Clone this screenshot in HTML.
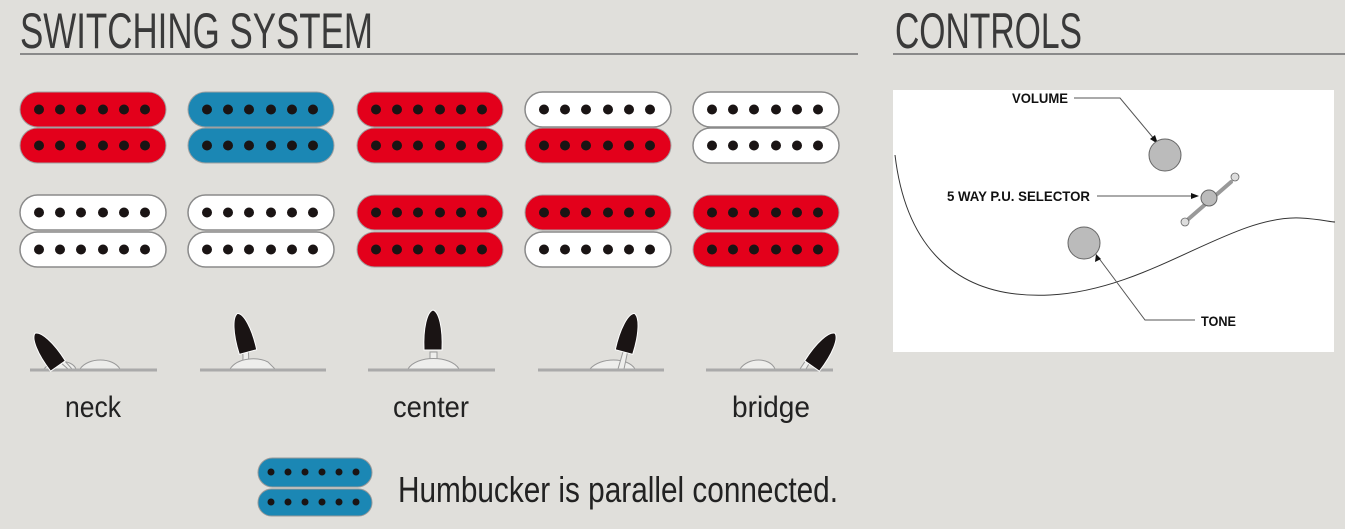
<!DOCTYPE html>
<html><head><meta charset="utf-8"><style>
html,body{margin:0;padding:0;background:#e0dfdb;}
svg{display:block}
</style></head><body>
<svg width="1345" height="529" viewBox="0 0 1345 529" xmlns="http://www.w3.org/2000/svg">
<defs>
<g id="dots" fill="#1a1414">
<circle cx="19" cy="17.5" r="5"/><circle cx="40" cy="17.5" r="5"/><circle cx="61" cy="17.5" r="5"/><circle cx="83" cy="17.5" r="5"/><circle cx="104" cy="17.5" r="5"/><circle cx="125" cy="17.5" r="5"/>
</g>
<g id="R"><rect x="0" y="0" width="146" height="35" rx="17.5" fill="#e3001b" stroke="#a0a0a0" stroke-width="1"/><use href="#dots"/></g>
<g id="B"><rect x="0" y="0" width="146" height="35" rx="17.5" fill="#1b87b4" stroke="#a0a0a0" stroke-width="1"/><use href="#dots"/></g>
<g id="W"><rect x="0" y="0" width="146" height="35" rx="17.5" fill="#ffffff" stroke="#8a8a8a" stroke-width="1.5"/><use href="#dots"/></g>
<g id="knob"><path d="M-9,0 C-10,-22 -6,-38 0,-40 C6,-38 10,-22 9,0 Z" fill="#1a1414" stroke="#fff" stroke-width="1"/></g>
</defs>
<rect width="1345" height="529" fill="#e0dfdb"/>
<text x="20" y="48" font-family="Liberation Sans, sans-serif" font-size="50" fill="#3a3a3a" textLength="353" lengthAdjust="spacingAndGlyphs">SWITCHING SYSTEM</text>
<line x1="20" y1="54" x2="858" y2="54" stroke="#8a8a8a" stroke-width="2"/>
<text x="895" y="48" font-family="Liberation Sans, sans-serif" font-size="50" fill="#3a3a3a" textLength="187" lengthAdjust="spacingAndGlyphs">CONTROLS</text>
<line x1="893" y1="54" x2="1345" y2="54" stroke="#8a8a8a" stroke-width="2"/>

<!-- row 1 -->
<use href="#R" x="20" y="92"/><use href="#R" x="20" y="128"/>
<use href="#B" x="188" y="92"/><use href="#B" x="188" y="128"/>
<use href="#R" x="357" y="92"/><use href="#R" x="357" y="128"/>
<use href="#W" x="525" y="92"/><use href="#R" x="525" y="128"/>
<use href="#W" x="693" y="92"/><use href="#W" x="693" y="128"/>
<!-- row 2 -->
<use href="#W" x="20" y="195"/><use href="#W" x="20" y="232"/>
<use href="#W" x="188" y="195"/><use href="#W" x="188" y="232"/>
<use href="#R" x="357" y="195"/><use href="#R" x="357" y="232"/>
<use href="#R" x="525" y="195"/><use href="#W" x="525" y="232"/>
<use href="#R" x="693" y="195"/><use href="#R" x="693" y="232"/>

<!-- switches -->
<g fill="#eeeeec" stroke="#999" stroke-width="1">
<path d="M44,369 C52,359 72,359 76,369 Z"/>
<path d="M60,362 L68,369 L72,369 L64,360 Z"/>
<path d="M80,369 C88,357 113,357 120,369 Z" fill="#ececea"/>
<path d="M248,369 Q250,350 246,344 L242,344 Q244,358 242,369 Z"/>
<path d="M240,369 C248,357 268,357 278,362 L285,369 Z" transform="translate(-10,0)"/>
<path d="M430,369 L430,352 L437,352 L437,369 Z"/>
<path d="M408,369 C416,355 451,355 459,369 Z"/>
<path d="M590,369 C600,357 628,357 635,369 Z"/>
<path d="M618,369 L625,345 L629,345 L624,369 Z"/>
<path d="M740,369 C748,357 770,357 775,369 Z"/>
<path d="M800,369 L806,360 L810,362 L806,369 Z"/>
</g>
<g stroke="#aaa" stroke-width="3">
<line x1="30" y1="370" x2="157" y2="370"/>
<line x1="200" y1="370" x2="326" y2="370"/>
<line x1="368" y1="370" x2="495" y2="370"/>
<line x1="538" y1="370" x2="664" y2="370"/>
<line x1="706" y1="370" x2="833" y2="370"/>
</g>
<use href="#knob" transform="translate(58,366) rotate(-35)"/>
<use href="#knob" transform="translate(248,352) rotate(-15)"/>
<use href="#knob" transform="translate(433,350)"/>
<use href="#knob" transform="translate(624,352) rotate(15)"/>
<use href="#knob" transform="translate(812,366) rotate(35)"/>

<g font-family="Liberation Sans, sans-serif" font-size="30" fill="#222" text-anchor="middle">
<text x="93" y="417" textLength="56" lengthAdjust="spacingAndGlyphs">neck</text>
<text x="431" y="417" textLength="76" lengthAdjust="spacingAndGlyphs">center</text>
<text x="771" y="417" textLength="78" lengthAdjust="spacingAndGlyphs">bridge</text>
</g>

<!-- legend -->
<rect x="258" y="458" width="114" height="29" rx="14.5" fill="#1b87b4" stroke="#999"/>
<rect x="258" y="489" width="114" height="27" rx="13.5" fill="#1b87b4" stroke="#999"/>
<g fill="#1a1414">
<circle cx="271" cy="472" r="3.5"/><circle cx="288" cy="472" r="3.5"/><circle cx="305" cy="472" r="3.5"/><circle cx="322" cy="472" r="3.5"/><circle cx="339" cy="472" r="3.5"/><circle cx="356" cy="472" r="3.5"/>
<circle cx="271" cy="502" r="3.5"/><circle cx="288" cy="502" r="3.5"/><circle cx="305" cy="502" r="3.5"/><circle cx="322" cy="502" r="3.5"/><circle cx="339" cy="502" r="3.5"/><circle cx="356" cy="502" r="3.5"/>
</g>
<text x="398" y="502" font-family="Liberation Sans, sans-serif" font-size="36" fill="#222" textLength="440" lengthAdjust="spacingAndGlyphs">Humbucker is parallel connected.</text>

<!-- controls -->
<rect x="893" y="90" width="441" height="262" fill="#fff"/>
<path d="M895,155 C905,240 950,300 1050,295 C1150,290 1230,215 1300,218 C1320,219 1330,222 1335,222" fill="none" stroke="#333" stroke-width="1"/>
<g font-family="Liberation Sans, sans-serif" font-weight="bold" font-size="14" fill="#111">
<text x="1012" y="103" textLength="56" lengthAdjust="spacingAndGlyphs">VOLUME</text>
<text x="947" y="201" textLength="143" lengthAdjust="spacingAndGlyphs">5 WAY P.U. SELECTOR</text>
<text x="1201" y="326" textLength="35" lengthAdjust="spacingAndGlyphs">TONE</text>
</g>
<g fill="none" stroke="#555" stroke-width="1">
<polyline points="1074,98 1120,98 1155,140"/>
<line x1="1097" y1="196" x2="1195" y2="196"/>
<polyline points="1195,320 1145,320 1098,257"/>
</g>
<g fill="#111">
<polygon points="1158,144 1150,139 1155,135"/>
<polygon points="1199,196 1191,193 1191,199"/>
<polygon points="1096,254 1095,262 1101,259"/>
</g>
<line x1="1185" y1="222" x2="1231" y2="182" stroke="#999" stroke-width="4" stroke-linecap="round"/>
<circle cx="1165" cy="155" r="16" fill="#bbb" stroke="#666"/>
<circle cx="1084" cy="243" r="16" fill="#bbb" stroke="#666"/>
<circle cx="1209" cy="198" r="8" fill="#bbb" stroke="#666"/>
<g fill="#ddd" stroke="#666" stroke-width="0.8">
<circle cx="1235" cy="177" r="4"/><circle cx="1185" cy="222" r="4"/>
</g>
</svg>
</body></html>
